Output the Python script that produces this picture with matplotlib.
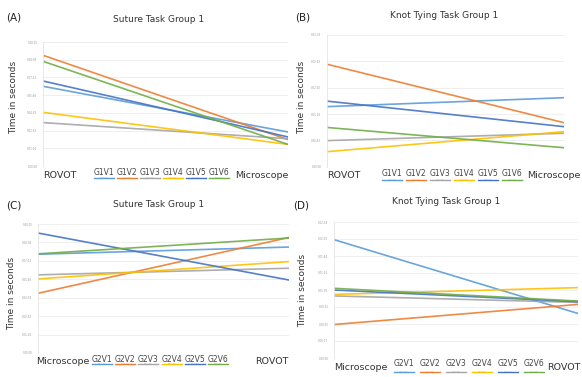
import matplotlib.pyplot as plt
from matplotlib.lines import Line2D

W, H = 582, 377

# Excel-like series colours
colors = ['#5b9bd5', '#ed7d31', '#a5a5a5', '#ffc000', '#4472c4', '#70ad47']

# (A) Suture task, group 1 (ROVOT -> Microscope)
a_cats = ['ROVOT', 'Microscope']
a_names = ['G1V1', 'G1V2', 'G1V3', 'G1V4', 'G1V5', 'G1V6']
a_start = [4.50, 6.25, 2.45, 3.03, 4.80, 5.91]
a_end = [1.92, 1.49, 1.54, 1.22, 1.64, 1.22]
a_ticks = ['0:00:00', '0:01:26', '0:02:53', '0:04:19', '0:05:46', '0:07:12', '0:08:38', '0:10:05']

# (B) Knot tying task, group 1
b_cats = ['ROVOT', 'Microscope']
b_names = ['G1V1', 'G1V2', 'G1V3', 'G1V4', 'G1V5', 'G1V6']
b_start = [2.28, 3.89, 0.99, 0.57, 2.49, 1.49]
b_end = [2.62, 1.67, 1.27, 1.33, 1.52, 0.72]
b_ticks = ['0:00:00', '0:00:43', '0:01:26', '0:02:10', '0:02:53', '0:03:36']

# (C) Suture task (Microscope -> ROVOT)
c_cats = ['Microscope', 'ROVOT']
c_names = ['G2V1', 'G2V2', 'G2V3', 'G2V4', 'G2V5', 'G2V6']
c_start = [5.36, 3.24, 4.24, 4.02, 6.51, 5.38]
c_end = [5.75, 6.27, 4.60, 4.96, 3.96, 6.24]
c_ticks = ['0:00:00', '0:01:26', '0:02:53', '0:04:19', '0:05:46', '0:07:12', '0:08:38', '0:10:05']

# (D) Knot tying task (Microscope -> ROVOT)
d_cats = ['Microscope', 'ROVOT']
d_names = ['G2V1', 'G2V2', 'G2V3', 'G2V4', 'G2V5', 'G2V6']
d_start = [6.96, 1.97, 3.65, 3.74, 4.00, 4.10]
d_end = [2.62, 3.15, 3.27, 4.14, 3.31, 3.35]
d_ticks = ['0:00:00', '0:00:17', '0:00:35', '0:00:52', '0:01:09', '0:01:26', '0:01:44', '0:02:01', '0:02:18']


def fx(px):
    return px / W


def fy(py):
    return 1 - py / H


fig = plt.figure(figsize=(W / 100, H / 100), dpi=100)


def panel(box, cats, names, start, end, ticks, title, tag, tpos, tagpos,
          ylpos, catpos, cat_y, leg_x, leg_ty, leg_ly):
    l, r, t, b = box
    ax = fig.add_axes([fx(l), fy(b), fx(r - l), (b - t) / H])
    n = len(ticks) - 1
    for i in range(len(names)):
        ax.plot([0, 1], [start[i], end[i]], color=colors[i], lw=1.2, alpha=0.9)
    ax.set_xlim(0, 1)
    ax.set_ylim(0, n)
    ax.set_yticks(range(n + 1))
    ax.set_yticklabels(ticks, fontsize=2, color='#999999')
    ax.tick_params(axis='y', length=0, pad=4)
    ax.set_xticks([])
    ax.grid(axis='y', color='#ececec', lw=0.6)
    for s in ['top', 'right', 'bottom']:
        ax.spines[s].set_visible(False)
    ax.spines['left'].set_color('#e4e4e4')
    ax.spines['left'].set_linewidth(0.6)
    # category labels at both ends
    for (x, ha), c in zip(catpos, cats):
        fig.text(fx(x), fy(cat_y), c, ha=ha, va='center',
                 fontsize=6.8, color='#333333')
    # legend drawn as label above a short line
    for i, nm in enumerate(names):
        x = leg_x[0] + i * leg_x[1]
        fig.text(fx(x), fy(leg_ty), nm, ha='center', va='center',
                 fontsize=5.5, color='#444444')
        fig.add_artist(Line2D([fx(x - 10), fx(x + 10)], [fy(leg_ly)] * 2,
                              color=colors[i], lw=1.0, transform=fig.transFigure))
        fig.text(fx(x), fy(leg_ly), '0:00:00', ha='center', va='center',
                 fontsize=1.5, color='#aaaaaa')
    fig.text(fx(tpos[0]), fy(tpos[1]), title, ha='center', va='center',
             fontsize=6.5, color='#333333')
    fig.text(fx(tagpos[0]), fy(tagpos[1]), tag, ha='left', va='center',
             fontsize=7.5, color='#222222')
    fig.text(fx(ylpos[0]), fy(ylpos[1]), 'Time in seconds', ha='center',
             va='center', rotation=90, fontsize=6.5, color='#333333')
    return ax


panel((43, 288, 42, 166), a_cats, a_names, a_start, a_end, a_ticks,
      'Suture Task Group 1', '(A)', (159, 19), (6, 17), (14, 97),
      [(43, 'left'), (288, 'right')], 175, (104, 23), 172, 178)
panel((327, 564, 35, 166.7), b_cats, b_names, b_start, b_end, b_ticks,
      'Knot Tying Task Group 1', '(B)', (444, 15), (295, 17), (302, 97),
      [(327, 'left'), (581, 'right')], 176, (392, 24), 174, 180)
panel((38, 289, 224, 353), c_cats, c_names, c_start, c_end, c_ticks,
      'Suture Task Group 1', '(C)', (159, 205), (6, 206), (12, 293),
      [(36, 'left'), (289, 'right')], 361, (102, 23.2), 359, 364)
panel((334, 578, 222, 358), d_cats, d_names, d_start, d_end, d_ticks,
      'Knot Tying Task Group 1', '(D)', (446, 202), (293, 206), (303, 290),
      [(334, 'left'), (581, 'right')], 368, (404, 26), 364, 372)

fig.savefig('out.png', dpi=100)
